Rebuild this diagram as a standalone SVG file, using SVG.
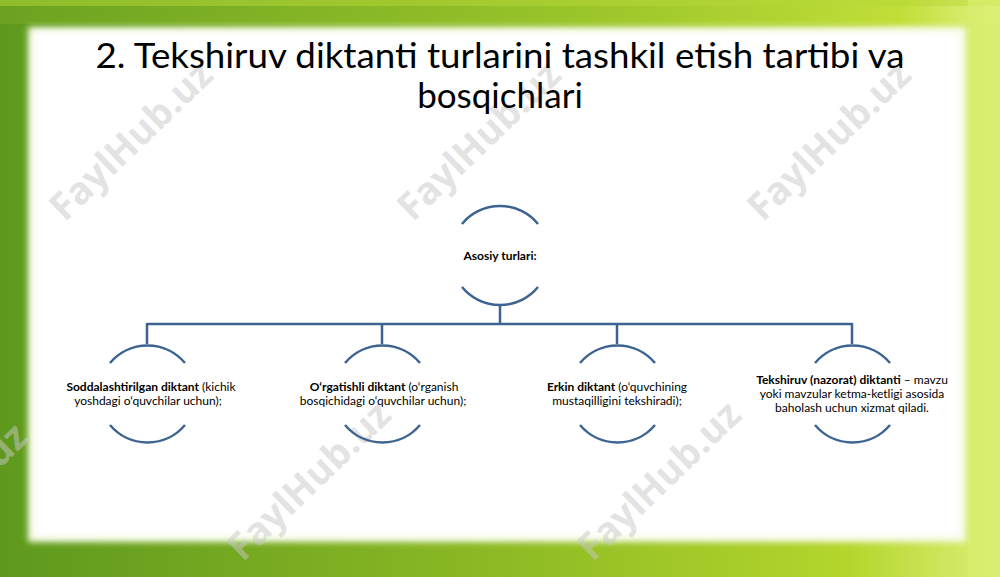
<svg xmlns="http://www.w3.org/2000/svg" width="1000" height="577" viewBox="0 0 1000 577">
<defs>
<linearGradient id="frame" x1="0" y1="0" x2="1" y2="0">
<stop offset="0" stop-color="#5e991d"/>
<stop offset="0.5" stop-color="#8dba24"/>
<stop offset="0.85" stop-color="#b4d62c"/>
<stop offset="1" stop-color="#dcef78"/>
</linearGradient>
<linearGradient id="topband" x1="0" y1="0" x2="1" y2="0">
<stop offset="0" stop-color="#6aa220"/>
<stop offset="0.6" stop-color="#9cc62a"/>
<stop offset="0.9" stop-color="#c0de38"/>
<stop offset="1" stop-color="#e2f284"/>
</linearGradient>
<filter id="soft" x="-5%" y="-5%" width="110%" height="110%">
<feGaussianBlur stdDeviation="3"/>
</filter>
<style>
.t{font-family:Lato,"Open Sans","Liberation Sans",sans-serif;fill:#000}
.title{font-size:35px}
.lab{font-size:12px;text-anchor:middle}
.b{font-weight:bold}
.arc{fill:none;stroke:#3d6491;stroke-width:2.5}
.con{fill:none;stroke:#3d6491;stroke-width:2.5}
.wm{font-family:"Open Sans","Liberation Sans",sans-serif;font-weight:bold;font-size:38px;fill:#c8c8c8;fill-opacity:0.5;text-anchor:middle}
</style>
</defs>
<rect x="0" y="0" width="1000" height="577" fill="url(#frame)"/>
<rect x="0" y="0" width="1000" height="24" fill="url(#topband)"/>
<rect x="0" y="0" width="1000" height="6" fill="#b6d838" opacity="0.5"/>
<rect x="968" y="0" width="32" height="577" fill="#d9ee6e" opacity="0.7"/>
<rect x="28" y="27" width="938" height="515" fill="#f4fbe4" filter="url(#soft)"/>
<rect x="34" y="32" width="926" height="504" fill="#ffffff" filter="url(#soft)"/>

<g id="watermarks">
<text class="wm" transform="translate(140,150) rotate(-44)">FaylHub.uz</text>
<text class="wm" transform="translate(488,150) rotate(-44)">FaylHub.uz</text>
<text class="wm" transform="translate(838,150) rotate(-44)">FaylHub.uz</text>
<text class="wm" transform="translate(318,490) rotate(-44)">FaylHub.uz</text>
<text class="wm" transform="translate(668,490) rotate(-44)">FaylHub.uz</text>
<text class="wm" transform="translate(-45,512) rotate(-44)">FaylHub.uz</text>
</g>

<g id="title">
<text class="t title" x="500" y="68" text-anchor="middle" textLength="809" lengthAdjust="spacingAndGlyphs">2. Tekshiruv diktanti turlarini tashkil etish tartibi va</text>
<text class="t title" x="500" y="108" text-anchor="middle">bosqichlari</text>
</g>

<g id="connectors">
<path class="con" d="M500,304 V324 M147,324 H852 M147,323 V344 M382,323 V344 M617,323 V344 M852,323 V344"/>
</g>

<g id="root">
<path class="arc" d="M462,224 A49,49 0 0 1 538,224"/>
<path class="arc" d="M462,287 A49,49 0 0 0 538,287"/>
<text class="t lab b" x="500" y="260" font-size="12.5">Asosiy turlari:</text>
</g>

<g id="node1">
<path class="arc" d="M110,363 A49,49 0 0 1 185,363"/>
<path class="arc" d="M110,425 A49,49 0 0 0 185,425"/>
<text class="t lab" x="151" y="391"><tspan class="b">Soddalashtirilgan diktant</tspan> (kichik</text>
<text class="t lab" x="148" y="405">yoshdagi o‘quvchilar uchun);</text>
</g>

<g id="node2">
<path class="arc" d="M345,363 A49,49 0 0 1 420,363"/>
<path class="arc" d="M345,425 A49,49 0 0 0 420,425"/>
<text class="t lab" x="384" y="391"><tspan class="b">O‘rgatishli diktant</tspan> (o‘rganish</text>
<text class="t lab" x="383" y="405">bosqichidagi o‘quvchilar uchun);</text>
</g>

<g id="node3">
<path class="arc" d="M580,363 A49,49 0 0 1 655,363"/>
<path class="arc" d="M580,425 A49,49 0 0 0 655,425"/>
<text class="t lab" x="617" y="391"><tspan class="b">Erkin diktant</tspan> (o‘quvchining</text>
<text class="t lab" x="617" y="405">mustaqilligini tekshiradi);</text>
</g>

<g id="node4">
<path class="arc" d="M815,363 A49,49 0 0 1 890,363"/>
<path class="arc" d="M815,425 A49,49 0 0 0 890,425"/>
<text class="t lab" x="852" y="384"><tspan class="b">Tekshiruv (nazorat) diktanti</tspan> – mavzu</text>
<text class="t lab" x="852" y="398">yoki mavzular ketma-ketligi asosida</text>
<text class="t lab" x="852" y="412">baholash uchun xizmat qiladi.</text>
</g>
</svg>
